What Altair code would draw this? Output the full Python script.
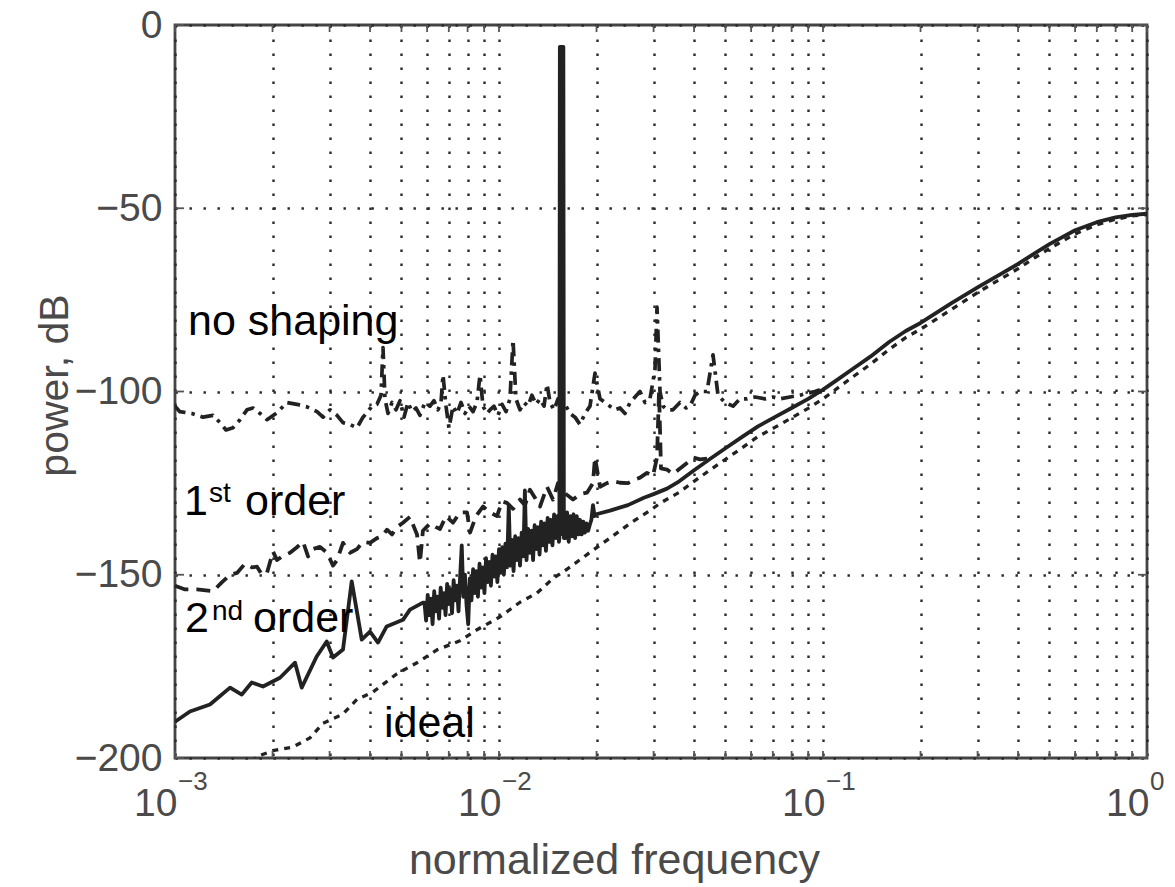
import altair as alt
import pandas as pd

# ---------------- data (frequency, power dB) ----------------
NO_SHAPING = [
    (1.000e-3, -104), (1.035e-3, -105.5), (1.128e-3, -106), (1.220e-3, -107), (1.310e-3, -106.5),
    (1.377e-3, -108.5), (1.437e-3, -110.5), (1.510e-3, -109.9), (1.587e-3, -107.7), (1.668e-3, -105),
    (1.741e-3, -104.5), (1.830e-3, -106), (1.923e-3, -107.7), (2.065e-3, -105.8), (2.216e-3, -103),
    (2.379e-3, -103.5), (2.555e-3, -104.2), (2.744e-3, -105.5), (2.863e-3, -107), (3.009e-3, -105),
    (3.162e-3, -106.5), (3.300e-3, -108.5), (3.469e-3, -109), (3.645e-3, -109.9), (3.804e-3, -107),
    (3.913e-3, -105.8), (4.055e-3, -104), (4.202e-3, -103.5), (4.324e-3, -101), (4.385e-3, -88),
    (4.447e-3, -102), (4.544e-3, -106), (4.675e-3, -103), (4.810e-3, -105), (4.948e-3, -102.5),
    (5.091e-3, -107), (5.237e-3, -103), (5.387e-3, -105.5), (5.543e-3, -104.5), (5.702e-3, -106.5),
    (5.909e-3, -103), (6.124e-3, -104), (6.300e-3, -102.5), (6.481e-3, -105), (6.622e-3, -103),
    (6.717e-3, -95.5), (6.862e-3, -104), (7.010e-3, -110), (7.211e-3, -104), (7.419e-3, -106),
    (7.633e-3, -103), (7.853e-3, -106), (8.079e-3, -104), (8.312e-3, -105.5), (8.551e-3, -103),
    (8.736e-3, -95.5), (8.925e-3, -104), (9.183e-3, -106), (9.380e-3, -105), (9.652e-3, -104),
    (9.929e-3, -106.5), (1.022e-2, -103.5), (1.051e-2, -105.5), (1.081e-2, -102), (1.105e-2, -86),
    (1.128e-2, -102), (1.161e-2, -105), (1.194e-2, -103), (1.229e-2, -104), (1.264e-2, -101),
    (1.301e-2, -103.5), (1.338e-2, -102), (1.377e-2, -104), (1.407e-2, -98), (1.437e-2, -103),
    (1.479e-2, -105), (1.521e-2, -102), (1.610e-2, -104), (1.656e-2, -106), (1.716e-2, -107),
    (1.778e-2, -109), (1.842e-2, -106), (1.909e-2, -104), (1.978e-2, -95), (2.050e-2, -102),
    (2.124e-2, -103), (2.200e-2, -104), (2.280e-2, -105), (2.363e-2, -104.5), (2.448e-2, -106),
    (2.537e-2, -103), (2.629e-2, -101.5), (2.724e-2, -100), (2.822e-2, -103), (2.924e-2, -102),
    (3.030e-2, -94), (3.074e-2, -77), (3.140e-2, -100), (3.207e-2, -104), (3.300e-2, -105),
    (3.443e-2, -105), (3.619e-2, -103), (3.777e-2, -104.5), (3.886e-2, -104), (4.027e-2, -101),
    (4.173e-2, -100), (4.385e-2, -100), (4.576e-2, -90), (4.742e-2, -101), (4.984e-2, -103),
    (5.277e-2, -104), (5.545e-2, -102), (5.828e-2, -102), (6.168e-2, -101.5), (6.622e-2, -102),
    (7.010e-2, -101.5), (7.367e-2, -102), (7.910e-2, -101.5), (8.492e-2, -101), (8.925e-2, -100.5),
    (9.447e-2, -100), (9.788e-2, -99.5),
]

FIRST_ORDER = [
    (1.000e-3, -153), (1.074e-3, -154), (1.169e-3, -154), (1.310e-3, -154.5), (1.397e-3, -152),
    (1.479e-3, -150), (1.554e-3, -149.5), (1.644e-3, -147), (1.729e-3, -148), (1.791e-3, -147.8),
    (1.855e-3, -150), (1.923e-3, -149.5), (2.007e-3, -143.7), (2.065e-3, -146), (2.139e-3, -145),
    (2.265e-3, -144), (2.379e-3, -142.5), (2.484e-3, -141), (2.574e-3, -145), (2.667e-3, -143),
    (2.802e-3, -142.4), (2.945e-3, -144), (3.074e-3, -147.5), (3.162e-3, -146), (3.300e-3, -141.3),
    (3.469e-3, -144), (3.645e-3, -143), (3.804e-3, -141), (3.998e-3, -141.3), (4.202e-3, -140),
    (4.355e-3, -139.5), (4.511e-3, -137.7), (4.675e-3, -139), (4.844e-3, -137), (5.054e-3, -135.8),
    (5.312e-3, -134.2), (5.466e-3, -137), (5.584e-3, -139), (5.702e-3, -146.7), (5.824e-3, -138),
    (6.124e-3, -136), (6.390e-3, -137), (6.575e-3, -137.5), (6.862e-3, -134), (7.211e-3, -135.8),
    (7.579e-3, -133), (7.967e-3, -133), (8.140e-3, -138.5), (8.492e-3, -134), (8.925e-3, -131.4),
    (9.380e-3, -133), (9.858e-3, -134), (1.022e-2, -130), (1.058e-2, -130.4), (1.105e-2, -132),
    (1.161e-2, -129.5), (1.203e-2, -131), (1.246e-2, -126.8), (1.291e-2, -129), (1.338e-2, -131.4),
    (1.407e-2, -126), (1.468e-2, -129.5), (1.521e-2, -125), (1.610e-2, -128), (1.692e-2, -129.5),
    (1.778e-2, -128), (1.869e-2, -127.6), (1.950e-2, -125), (1.978e-2, -118), (2.050e-2, -126),
    (2.154e-2, -125), (2.248e-2, -124.5), (2.363e-2, -124.9), (2.501e-2, -125), (2.629e-2, -124),
    (2.724e-2, -123.5), (2.862e-2, -122.2), (2.987e-2, -123), (3.074e-2, -118), (3.118e-2, -100),
    (3.162e-2, -121), (3.300e-2, -121.3), (3.443e-2, -122.5), (3.619e-2, -121), (3.804e-2, -119.5),
    (3.970e-2, -118), (4.173e-2, -118.5), (4.385e-2, -118.3),
]

SECOND_ORDER = [
    (1.000e-3, -190.1), (1.112e-3, -187.3), (1.282e-3, -185.4), (1.479e-3, -180.8), (1.607e-3, -182.7),
    (1.725e-3, -179.4), (1.869e-3, -180.5), (2.109e-3, -178.1), (2.347e-3, -174.0), (2.461e-3, -180.8),
    (2.737e-3, -172.3), (2.939e-3, -168.2), (3.074e-3, -172.6), (3.300e-3, -170.4), (3.511e-3, -151.8),
    (3.770e-3, -167.7), (3.998e-3, -165.5), (4.232e-3, -168.5), (4.501e-3, -164.1), (5.054e-3, -162.3),
    (5.312e-3, -159.5), (5.824e-3, -157.6),
    # dense noisy band below the tone
    (5.888e-3, -157.6), (5.956e-3, -162.5), (6.026e-3, -155.5), (6.096e-3, -161), (6.166e-3, -156.5),
    (6.237e-3, -163.5), (6.310e-3, -154.5), (6.383e-3, -160), (6.457e-3, -156), (6.532e-3, -162),
    (6.607e-3, -153.5), (6.683e-3, -159), (6.761e-3, -155), (6.839e-3, -161), (6.918e-3, -152.5),
    (6.998e-3, -158), (7.079e-3, -154), (7.161e-3, -160.5), (7.244e-3, -151.5), (7.328e-3, -157),
    (7.413e-3, -153), (7.499e-3, -160), (7.586e-3, -150.5), (7.674e-3, -142), (7.762e-3, -156),
    (7.852e-3, -150), (7.943e-3, -158.5), (8.035e-3, -163.5), (8.128e-3, -151), (8.222e-3, -157),
    (8.318e-3, -148.5), (8.414e-3, -155), (8.511e-3, -149), (8.610e-3, -156), (8.710e-3, -147),
    (8.811e-3, -153.5), (8.913e-3, -148), (9.016e-3, -155), (9.120e-3, -145.5), (9.226e-3, -152),
    (9.333e-3, -146.5), (9.441e-3, -153), (9.550e-3, -144.5), (9.661e-3, -150.5), (9.772e-3, -145),
    (9.885e-3, -152), (1.000e-2, -143), (1.012e-2, -149.5), (1.023e-2, -142.5), (1.035e-2, -150),
    (1.047e-2, -141.5), (1.059e-2, -148), (1.072e-2, -131), (1.084e-2, -147.5), (1.096e-2, -140.5),
    (1.109e-2, -149), (1.122e-2, -139.5), (1.135e-2, -146), (1.148e-2, -140), (1.161e-2, -147.5),
    (1.175e-2, -138.5), (1.189e-2, -145), (1.202e-2, -127), (1.216e-2, -146), (1.230e-2, -137.5),
    (1.245e-2, -144), (1.259e-2, -138), (1.274e-2, -146), (1.288e-2, -136.5), (1.303e-2, -143),
    (1.318e-2, -137), (1.334e-2, -144.5), (1.349e-2, -135.5), (1.365e-2, -142), (1.380e-2, -136),
    (1.396e-2, -143.5), (1.413e-2, -134.5), (1.429e-2, -141), (1.445e-2, -135), (1.462e-2, -142),
    (1.479e-2, -133.5), (1.496e-2, -140), (1.514e-2, -134), (1.531e-2, -141),
    # the tone
    (1.536e-2, -140), (1.541e-2, -6), (1.548e-2, -138), (1.554e-2, -6), (1.561e-2, -138),
    (1.567e-2, -6), (1.574e-2, -139), (1.580e-2, -6), (1.586e-2, -140),
    # dense band above the tone
    (1.603e-2, -140), (1.622e-2, -133), (1.641e-2, -141), (1.660e-2, -134), (1.679e-2, -139.5),
    (1.698e-2, -133.5), (1.718e-2, -140), (1.738e-2, -134), (1.758e-2, -139), (1.778e-2, -135),
    (1.799e-2, -139), (1.820e-2, -135.5), (1.841e-2, -138.5), (1.862e-2, -136), (1.884e-2, -138),
    (1.905e-2, -136.5), (1.928e-2, -135), (1.950e-2, -131), (1.972e-2, -134), (1.995e-2, -133.5),
    # smooth rise
    (2.2e-2, -132.5), (2.5e-2, -131), (2.8e-2, -129), (3.0e-2, -128),
    (3.3e-2, -126.5), (3.6e-2, -124.5), (4.0e-2, -121.5), (4.5e-2, -118.3), (5.0e-2, -115.5),
    (5.6e-2, -112.5), (6.3e-2, -109.5), (7.1e-2, -107), (8.0e-2, -104.5), (9.0e-2, -102),
    (0.100, -99.5), (0.112, -96.5), (0.125, -93.5), (0.14, -90.5), (0.16, -86.5),
    (0.18, -83.5), (0.20, -81.3), (0.25, -75.8), (0.30, -71.6), (0.35, -68.2),
    (0.40, -65.2), (0.45, -62.3), (0.50, -59.8), (0.60, -56), (0.70, -53.8),
    (0.80, -52.5), (0.90, -51.8), (1.00, -51.5),
]

IDEAL = [
    (1.720e-3, -201), (1.803e-3, -199.5), (2.007e-3, -198), (2.313e-3, -197), (2.610e-3, -194.5),
    (2.863e-3, -190.5), (3.300e-3, -188), (3.645e-3, -184), (4.084e-3, -182), (4.844e-3, -177),
    (5.584e-3, -174), (6.435e-3, -170.5), (7.579e-3, -168), (8.551e-3, -165), (1.007e-2, -161.5),
    (1.161e-2, -157.5), (1.310e-2, -155), (1.468e-2, -151), (1.621e-2, -148.5), (1.869e-2, -144.5),
    (2.200e-2, -140), (2.537e-2, -136), (2.924e-2, -132.5), (3.14e-2, -130.5), (3.6e-2, -127.5),
    (4.0e-2, -124.5), (4.5e-2, -121.3), (5.0e-2, -118.5), (5.6e-2, -115.5), (6.3e-2, -112.3),
    (7.1e-2, -109.8), (8.0e-2, -107.2), (9.0e-2, -104.6), (0.100, -102), (0.112, -98.8),
    (0.125, -95.7), (0.14, -92.6), (0.16, -88.5), (0.18, -85.3), (0.20, -83),
    (0.25, -77.5), (0.30, -73), (0.35, -69.5), (0.40, -66.5), (0.45, -63.5),
    (0.50, -61), (0.60, -57), (0.70, -54.5), (0.80, -53), (0.90, -52.1), (1.00, -51.7),
]

# axis tick positions
X_TICKS = [round(m * 10.0 ** k, 6) for k in (-3, -2, -1) for m in range(1, 10)] + [1.0]
Y_TICKS = [-200, -150, -100, -50, 0]
EXP_F = [1e-3, 1e-2, 1e-1, 1.0]
EXP_TEXT = ["\u22123", "\u22122", "\u22121", "0"]

# in-plot labels (text, frequency, dB)
LABEL_TEXT = ["no shaping", "1", "order", "2", "order", "ideal"]
LABEL_F = [1.097e-3, 1.066e-3, 1.645e-3, 1.074e-3, 1.741e-3, 4.416e-3]
LABEL_DB = [-84.5, -133.6, -133.6, -165.5, -165.5, -194.4]
SUP_TEXT = ["st", "nd"]
SUP_F = [1.273e-3, 1.300e-3]
SUP_DB = [-130.1, -162.3]


def frame(pairs):
    return pd.DataFrame({
        "f": [p[0] for p in pairs],
        "dB": [p[1] for p in pairs],
        "i": list(range(len(pairs))),
    })


W, H = 972, 733
FONT = "Liberation Sans"
AXIS_GRAY = "#4a4a4a"
INK = "#222222"
GRID = "#2a2a2a"

x_scale = alt.Scale(type="log", domain=[1e-3, 1.0], nice=False)
y_scale = alt.Scale(domain=[-200, 0], nice=False, zero=False)

x_axis = alt.Axis(
    values=X_TICKS,
    labelExpr="abs(log(datum.value)/LN10 - round(log(datum.value)/LN10)) < 0.001 ? '10' : ''",
    title="normalized frequency",
    grid=True, gridDash=[2.4, 11.6], gridColor=GRID, gridWidth=2.4,
    ticks=False, domain=False,
    labelFlush=False, labelOverlap=False,
    labelFont=FONT, labelFontSize=39, labelColor=AXIS_GRAY,
    labelPadding=26, labelAlign="right", labelOffset=2,
    titleFont=FONT, titleFontSize=43, titleColor=AXIS_GRAY, titleFontWeight="normal",
    titleX=439, titleY=102, titleBaseline="middle", titleAlign="center",
)
y_axis = alt.Axis(
    values=Y_TICKS,
    labelExpr="datum.value < 0 ? '\u2212' + abs(datum.value) : '' + datum.value",
    title="power, dB",
    grid=True, gridDash=[2.4, 11.6], gridColor=GRID, gridWidth=2.4,
    ticks=False, domain=False,
    labelFlush=False, labelOverlap=False,
    labelFont=FONT, labelFontSize=39, labelColor=AXIS_GRAY,
    labelPadding=13, labelBaseline="middle",
    titleFont=FONT, titleFontSize=41, titleColor=AXIS_GRAY, titleFontWeight="normal",
    titleX=-120, titleY=360, titleBaseline="middle", titleAlign="center", titleAngle=270,
)

X = alt.X("f:Q", scale=x_scale, axis=x_axis)
Y = alt.Y("dB:Q", scale=y_scale, axis=y_axis)


def line(pairs, dash, width):
    kw = dict(color=INK, strokeWidth=width, clip=True, strokeJoin="round")
    if dash:
        kw["strokeDash"] = dash
    return alt.Chart(frame(pairs)).mark_line(**kw).encode(x=X, y=Y, order="i:Q")


ideal = line(IDEAL, [6, 6], 3.3)
noshape = line(NO_SHAPING, [13, 6, 3.5, 6], 3.7)
first = line(FIRST_ORDER, [14, 8], 3.8)
second = line(SECOND_ORDER, None, 3.8)

xt = pd.DataFrame({"f": X_TICKS})
yt = pd.DataFrame({"dB": Y_TICKS})
tick_style = dict(color="#555555", strokeWidth=1.8)
ticks_bottom = alt.Chart(xt).mark_rule(**tick_style).encode(x=X, y=alt.value(H), y2=alt.value(H - 7))
ticks_top = alt.Chart(xt).mark_rule(**tick_style).encode(x=X, y=alt.value(0), y2=alt.value(7))
ticks_left = alt.Chart(yt).mark_rule(**tick_style).encode(y=Y, x=alt.value(0), x2=alt.value(9))
ticks_right = alt.Chart(yt).mark_rule(**tick_style).encode(y=Y, x=alt.value(W), x2=alt.value(W - 9))

exps = alt.Chart(pd.DataFrame({"f": EXP_F, "dB": [-200] * 4, "t": EXP_TEXT})).mark_text(
    align="left", baseline="alphabetic", dx=3, dy=32, font=FONT, fontSize=26, color=AXIS_GRAY
).encode(x=X, y=Y, text="t:N")

labels = alt.Chart(pd.DataFrame({"f": LABEL_F, "dB": LABEL_DB, "t": LABEL_TEXT})).mark_text(
    align="left", baseline="alphabetic", font=FONT, fontSize=43, color="black"
).encode(x=X, y=Y, text="t:N")

sups = alt.Chart(pd.DataFrame({"f": SUP_F, "dB": SUP_DB, "t": SUP_TEXT})).mark_text(
    align="left", baseline="alphabetic", font=FONT, fontSize=28, color="black"
).encode(x=X, y=Y, text="t:N")

chart = alt.layer(
    ideal, noshape, first, second,
    ticks_bottom, ticks_top, ticks_left, ticks_right,
    exps, labels, sups,
).properties(
    width=W, height=H,
    padding={"left": 175, "top": 25, "right": 28, "bottom": 129},
    autosize=alt.AutoSizeParams(type="none"),
    background="white",
).configure_view(stroke="#444444", strokeWidth=2.8)

chart.save("out.html", embed_options={"renderer": "svg", "actions": False})
